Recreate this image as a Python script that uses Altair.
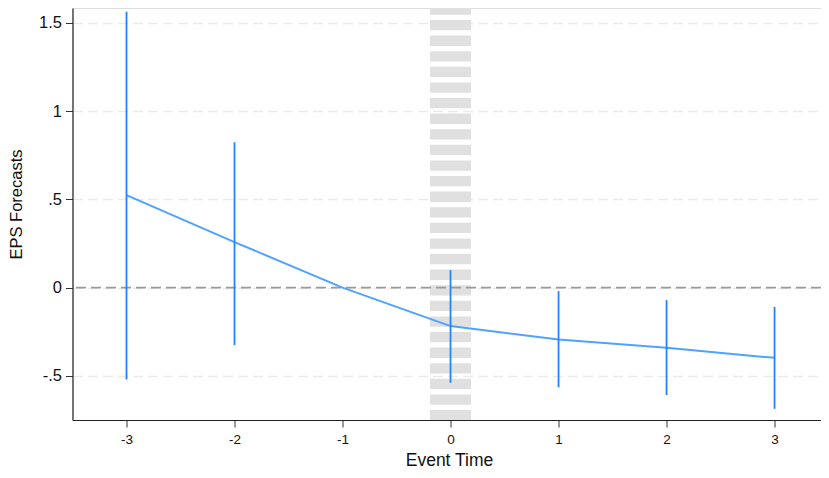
import altair as alt
import pandas as pd

event_time = [-3, -2, -1, 0, 1, 2, 3]
coef = [0.524, 0.258, 0.0, -0.218, -0.294, -0.341, -0.398]
ci_low = [-0.52, -0.326, None, -0.539, -0.565, -0.609, -0.687]
ci_high = [1.563, 0.824, None, 0.099, -0.02, -0.071, -0.109]
y_ticks = [-0.5, 0, 0.5, 1, 1.5]

df = pd.DataFrame({"t": event_time, "b": coef, "lo": ci_low, "hi": ci_high})
FONT = "Liberation Sans"

xs = alt.Scale(domain=[-3.5, 3.43], nice=False, zero=False)
ys = alt.Scale(domain=[-0.75, 1.584], nice=False, zero=False)

base = alt.Chart(df)

band = alt.Chart(pd.DataFrame({"t": [0]})).mark_rule(
    color="#e0e0e0", strokeWidth=41, strokeDash=[10.3, 5.3], strokeDashOffset=3.6
).encode(
    x=alt.X("t:Q", scale=xs,
            axis=alt.Axis(title="Event Time", values=event_time,
                          labelExpr="'' + datum.value",
                          labelFontSize=13.5, labelColor="#111", labelFont=FONT,
                          tickSize=7, tickColor="#333", labelPadding=5,
                          domainColor="#222", domainWidth=1.2, grid=False,
                          titleFont=FONT, titleFontSize=17.5, titleFontWeight="normal",
                          titleColor="#111", titleX=376.5, titleY=45,
                          titleBaseline="alphabetic"))
)

zero = alt.Chart(pd.DataFrame({"y": [0]})).mark_rule(
    color="#9a9a9a", strokeWidth=1.8, strokeDash=[10, 5]
).encode(
    y=alt.Y("y:Q", scale=ys,
            axis=alt.Axis(title="EPS Forecasts", values=y_ticks,
                          labelExpr="replace('' + datum.value, '0.', '.')",
                          labelFontSize=16.5, labelColor="#111", labelFont=FONT,
                          tickSize=7, tickColor="#333", labelPadding=4,
                          domainColor="#222", domainWidth=1.2,
                          grid=True, gridColor="#ebebeb", gridDash=[10, 5], gridWidth=1.5,
                          titleFont=FONT, titleFontSize=16.5, titleFontWeight="normal",
                          titleColor="#111", titleX=-56, titleY=196,
                          titleBaseline="middle", titleAlign="center"))
)

line = base.mark_line(color="#4da3ff", strokeWidth=2).encode(
    x=alt.X("t:Q", scale=xs), y=alt.Y("b:Q", scale=ys)
)

bars = base.transform_filter("datum.lo != null").mark_rule(
    color="#1f86ff", strokeWidth=1.8
).encode(
    x=alt.X("t:Q", scale=xs), y=alt.Y("lo:Q", scale=ys), y2="hi:Q"
)

chart = alt.layer(band, zero, line, bars).properties(
    width=748.5, height=412,
    autosize=alt.AutoSizeParams(type="none"),
    padding={"left": 64.5, "top": 0, "right": 0, "bottom": 50},
).configure_view(stroke=None).configure(background="white")

chart.save("out.html", embed_options={"renderer": "svg", "actions": False})
